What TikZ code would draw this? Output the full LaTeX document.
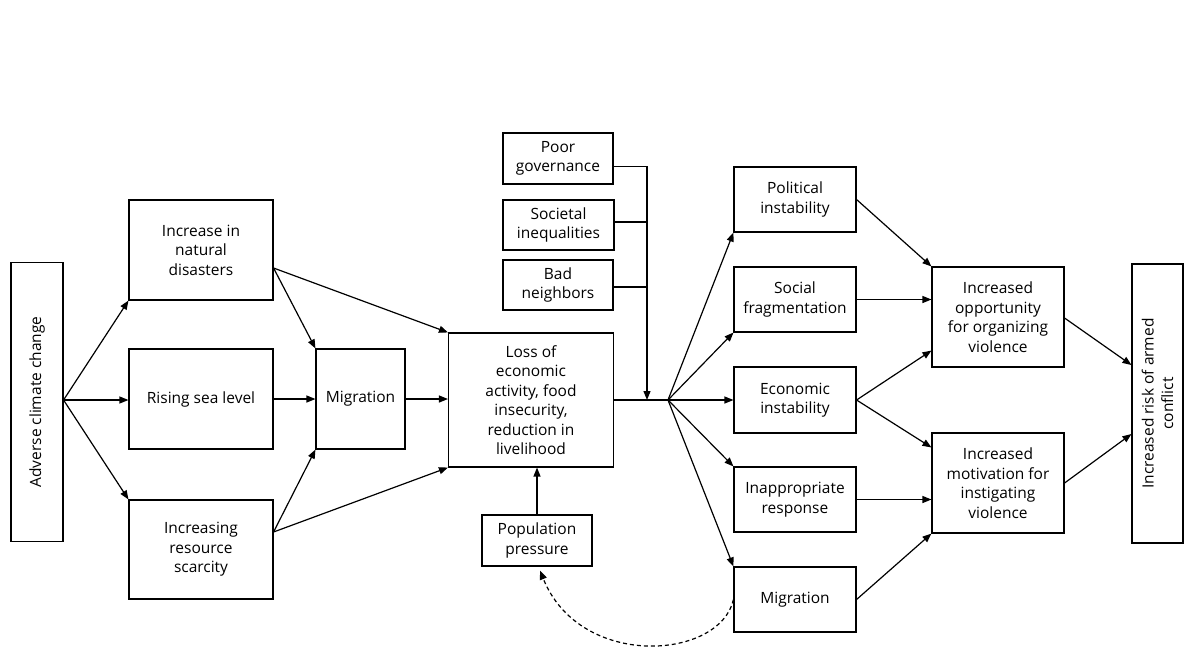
\documentclass[tikz,border=0pt]{standalone}
\usepackage{fontspec}
\setmainfont{Open Sans}
\usetikzlibrary{arrows.meta}
\tikzset{
  box/.style={draw, line width=1.1pt, align=center, inner sep=2pt,
    font=\fontsize{15.5}{19.5}\selectfont},
  arr/.style={line width=1.2pt, -{Triangle[length=9pt,width=7pt]}},
  ln/.style={line width=1.2pt},
  dsh/.style={line width=1.2pt, dash pattern=on 4pt off 3pt, -{Triangle[length=9pt,width=7pt]}}
}
\begin{document}
\begin{tikzpicture}[x=1pt,y=-1pt]
\useasboundingbox (0,0) rectangle (1186,665);
% left column
\node[box, rotate=90, minimum width=279pt, minimum height=52pt] (adv) at (37,402) {Adverse climate change};
\node[box, minimum width=144pt, minimum height=100pt] (nat) at (201,250) {Increase in\\natural\\disasters};
\node[box, minimum width=144pt, minimum height=100pt] (sea) at (201,399) {Rising sea level};
\node[box, minimum width=144pt, minimum height=99pt] (res) at (201,549.5) {Increasing\\resource\\scarcity};
\node[box, minimum width=89pt, minimum height=100pt] (mig1) at (360.5,399) {Migration};
\node[box, minimum width=165pt, minimum height=134pt] (loss) at (531,400) {Loss of\\economic\\activity, food\\insecurity,\\reduction in\\livelihood};
\node[box, minimum width=110pt, minimum height=51pt] (gov) at (558,158.5) {Poor\\governance};
\node[box, minimum width=111pt, minimum height=50pt] (soc) at (558.5,225) {Societal\\inequalities};
\node[box, minimum width=110pt, minimum height=50pt] (bad) at (558,285) {Bad\\neighbors};
\node[box, minimum width=110pt, minimum height=51pt] (pop) at (537,540.5) {Population\\pressure};
% right columns
\node[box, minimum width=122pt, minimum height=65pt] (pol) at (795,199.5) {Political\\instability};
\node[box, minimum width=122pt, minimum height=65pt] (sfr) at (795,299.5) {Social\\fragmentation};
\node[box, minimum width=122pt, minimum height=66pt] (eco) at (795,400) {Economic\\instability};
\node[box, minimum width=122pt, minimum height=65pt] (inr) at (795,499.5) {Inappropriate\\response};
\node[box, minimum width=122pt, minimum height=65pt] (mig2) at (795,599.5) {Migration};
\node[box, minimum width=132pt, minimum height=100pt] (opp) at (998,317) {Increased\\opportunity\\for organizing\\violence};
\node[box, minimum width=132pt, minimum height=100pt] (mot) at (998,483) {Increased\\motivation for\\instigating\\violence};
\node[box, rotate=90, minimum width=279pt, minimum height=51pt] (risk) at (1157.5,403.5) {Increased risk of armed\\conflict};
% helper coordinates
\coordinate (j) at (647,400);
\coordinate (hub) at (668,400);
\coordinate (src) at ([yshift=2pt]adv.south);
% left arrows
\draw[arr] (src) -- (nat.south west);
\draw[arr] (src) -- (src -| sea.west);
\draw[arr] (src) -- (res.north west);
\draw[arr] ([yshift=-18pt]nat.east) -- (mig1.north west);
\draw[arr] ([yshift=-18pt]nat.east) -- (loss.north west);
\draw[arr] (sea.east) -- (sea.east -| mig1.west);
\draw[arr] ([yshift=17.5pt]res.east) -- (mig1.south west);
\draw[arr] ([yshift=17.5pt]res.east) -- (loss.south west);
\draw[arr] (mig1.east) -- (mig1.east -| loss.west);
% governance bracket
\draw[arr] ([yshift=-8pt]gov.east) -| (j);
\draw[ln] ([yshift=3pt]soc.east) -- ([yshift=3pt]soc.east -| j);
\draw[ln] ([yshift=-2pt]bad.east) -- ([yshift=-2pt]bad.east -| j);
\draw[ln] (loss.east) -- (hub);
\draw[arr] (pop.north) -- (pop.north |- loss.south);
% hub fan
\draw[arr] (hub) -- (pol.south west);
\draw[arr] (hub) -- (sfr.south west);
\draw[arr] (hub) -- (eco.west);
\draw[arr] (hub) -- (inr.north west);
\draw[arr] (hub) -- (mig2.north west);
% right arrows
\draw[arr] (pol.east) -- (opp.north west);
\draw[arr] (sfr.east) -- (sfr.east -| opp.west);
\draw[arr] (eco.east) -- ([yshift=17pt]opp.south west);
\draw[arr] (eco.east) -- ([yshift=-15pt]mot.north west);
\draw[arr] (inr.east) -- (inr.east -| mot.west);
\draw[arr] (mig2.east) -- (mot.south west);
\draw[arr] ([yshift=-1pt]opp.east) -- ([yshift=38.5pt]risk.north);
\draw[arr] (mot.east) -- ([yshift=-30.5pt]risk.north);
% dashed feedback
\draw[dsh] (mig2.west) .. controls (720,660) and (580,670) .. ([xshift=3pt,yshift=-4pt]pop.south);
\end{tikzpicture}
\end{document}
